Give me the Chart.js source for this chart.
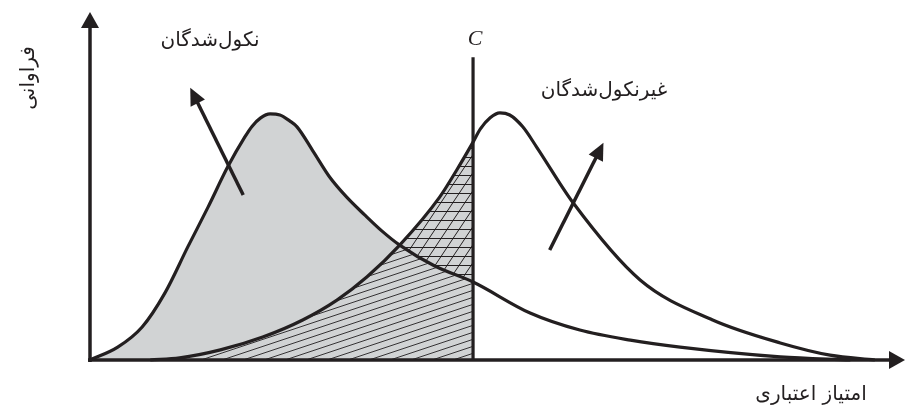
<!DOCTYPE html>
<html>
<head>
<meta charset="utf-8">
<script src="https://cdn.jsdelivr.net/npm/chart.js@4/dist/chart.umd.min.js"></script>
<style>
  body { margin: 0; background: #fff; }
</style>
</head>
<body>
<canvas id="myChart" width="909" height="410"></canvas>
<script>
// منحنی نکول‌شدگان (x = امتیاز اعتباری، y = فراوانی)
const defaultX = [0, 3.4, 6.4, 9.2, 12.0, 14.5, 16.9, 19.0, 19.9, 20.9, 22.1, 23.3, 24.5, 25.4, 27.4, 29.4, 31.5, 33.7, 35.8, 38.0, 42.3, 47.0, 54.0, 60.1, 66.3, 72.4, 84.7, 93.3];
const defaultY = [0, 3.7, 9.5, 19.3, 32.5, 44.0, 55.5, 64.1, 67.2, 69.5, 70.7, 70.4, 68.7, 67.0, 59.9, 52.6, 46.8, 41.7, 37.1, 33.0, 27.0, 22.4, 13.5, 8.6, 5.7, 3.7, 0.9, 0];

// منحنی غیرنکول‌شدگان
const goodX = [7.4, 11.0, 16.0, 21.2, 26.1, 30.3, 34.0, 38.0, 42.9, 45.0, 47.0, 47.9, 49.1, 50.3, 51.5, 53.1, 54.8, 59.3, 67.5, 76.4, 84.7, 90.8, 96.3];
const goodY = [0, 0.6, 2.9, 6.6, 11.5, 17.2, 23.9, 33.0, 46.8, 54.6, 62.6, 66.4, 69.6, 71.0, 70.4, 67.0, 61.2, 45.1, 23.0, 11.5, 4.9, 1.4, 0];

// نقطه برش C
const cutoff = 47.0;
const cutoffTop = 87;

const labels = {
  bad: 'نکول\u200cشدگان',
  good: 'غیرنکول\u200cشدگان',
  xTitle: 'امتیاز اعتباری',
  yTitle: 'فراوانی',
  c: 'C'
};

const ink = '#231f20';
const gray = '#d1d3d4';

const toPts = (xs, ys) => xs.map((x, i) => ({ x: x, y: ys[i] }));
const badPts = toPts(defaultX, defaultY);
const goodPts = toPts(goodX, goodY);
const badCut = badPts.filter(p => p.x <= cutoff);
const goodCut = goodPts.filter(p => p.x <= cutoff);

// هاشور مورب کم‌شیب
function makeShallow() {
  const W = 21, H = 7;
  const c = document.createElement('canvas');
  c.width = W; c.height = H;
  const g = c.getContext('2d');
  g.strokeStyle = ink; g.lineWidth = 0.9;
  for (let k = -2; k <= 2; k++) {
    g.beginPath();
    g.moveTo(-W, 2 * H + k * H);
    g.lineTo(2 * W, -H + k * H);
    g.stroke();
  }
  return g.createPattern(c, 'repeat');
}

// هاشور شطرنجی
function makeCross() {
  const W = 12, H = 18;
  const c = document.createElement('canvas');
  c.width = W; c.height = H;
  const g = c.getContext('2d');
  g.fillStyle = gray; g.fillRect(0, 0, W, H);
  g.strokeStyle = ink; g.lineWidth = 1;
  g.beginPath();
  g.moveTo(0, 4.5); g.lineTo(W, 4.5);
  g.moveTo(0, 13.5); g.lineTo(W, 13.5);
  g.stroke();
  for (let k = -2; k <= 2; k++) {
    g.beginPath();
    g.moveTo(-W, 2 * H + k * H);
    g.lineTo(2 * W, -H + k * H);
    g.stroke();
  }
  return g.createPattern(c, 'repeat');
}

function arrowHead(ctx, x1, y1, x2, y2, len, half) {
  const a = Math.atan2(y2 - y1, x2 - x1);
  ctx.beginPath();
  ctx.moveTo(x2, y2);
  ctx.lineTo(x2 - len * Math.cos(a) + half * Math.sin(a), y2 - len * Math.sin(a) - half * Math.cos(a));
  ctx.lineTo(x2 - len * Math.cos(a) - half * Math.sin(a), y2 - len * Math.sin(a) + half * Math.cos(a));
  ctx.closePath();
  ctx.fill();
}

function arrow(ctx, x1, y1, x2, y2, w, len, half) {
  const a = Math.atan2(y2 - y1, x2 - x1);
  ctx.lineWidth = w;
  ctx.beginPath();
  ctx.moveTo(x1, y1);
  ctx.lineTo(x2 - len * 0.7 * Math.cos(a), y2 - len * 0.7 * Math.sin(a));
  ctx.stroke();
  arrowHead(ctx, x1, y1, x2, y2, len, half);
}

// محورها، پیکان‌ها و متن‌ها
const decor = {
  id: 'decor',
  afterDatasetsDraw(chart) {
    const ctx = chart.ctx;
    const xs = chart.scales.x, ys = chart.scales.y;
    const X = v => xs.getPixelForValue(v);
    const Y = v => ys.getPixelForValue(v);
    ctx.save();
    ctx.strokeStyle = ink; ctx.fillStyle = ink;
    ctx.lineCap = 'butt';
    // محور y
    arrow(ctx, X(0), Y(0) + 2, X(0), Y(100), 3.5, 16, 9);
    // محور x
    arrow(ctx, X(0) - 2, Y(0), X(100), Y(0), 3.5, 16, 9);
    // پیکان‌های توضیح
    arrow(ctx, X(18.8), Y(47.4), X(12.3), Y(78.2), 3.5, 17, 8);
    arrow(ctx, X(56.4), Y(31.6), X(63.0), Y(62.4), 3.5, 17, 8);

    ctx.textAlign = 'center';
    ctx.textBaseline = 'middle';
    ctx.font = '20px "DejaVu Sans"';
    ctx.fillText(labels.bad, 210, 41);
    ctx.fillText(labels.good, 604, 91);
    ctx.fillText(labels.xTitle, 811, 395);
    ctx.save();
    ctx.translate(29, 78);
    ctx.rotate(-Math.PI / 2);
    ctx.fillText(labels.yTitle, 0, 0);
    ctx.restore();
    ctx.font = 'italic 22px "Liberation Serif"';
    ctx.fillText(labels.c, X(cutoff) + 2, 39);
    ctx.restore();
  }
};

const line = (data, extra) => Object.assign({
  data: data,
  borderColor: ink,
  borderWidth: 3.2,
  pointRadius: 0,
  cubicInterpolationMode: 'monotone',
  fill: false,
  clip: false
}, extra);

const ctx = document.getElementById('myChart');

new Chart(ctx, {
  type: 'line',
  data: {
    datasets: [
      line(goodPts, {}),                                   // 0 منحنی غیرنکول‌شدگان
      line(badPts, {}),                                    // 1 منحنی نکول‌شدگان
      line([{ x: cutoff, y: 0 }, { x: cutoff, y: cutoffTop }], { cubicInterpolationMode: 'default', tension: 0 }), // 2 خط C
      line(goodCut, { borderWidth: 0, fill: { target: 4, above: makeCross(), below: 'rgba(0,0,0,0)' } }), // 3
      line(badCut, { borderWidth: 0 }),                    // 4
      line(goodCut, { borderWidth: 0, fill: { target: 'origin', above: makeShallow() } }), // 5
      line(badCut, { borderWidth: 0, fill: { target: 'origin', above: gray } })          // 6
    ]
  },
  options: {
    responsive: false,
    animation: false,
    layout: { padding: { left: 90, right: 4, top: 12, bottom: 50 } },
    plugins: { legend: { display: false }, tooltip: { enabled: false } },
    scales: {
      x: { type: 'linear', min: 0, max: 100, display: false },
      y: { type: 'linear', min: 0, max: 100, display: false }
    }
  },
  plugins: [decor]
});
</script>
</body>
</html>
